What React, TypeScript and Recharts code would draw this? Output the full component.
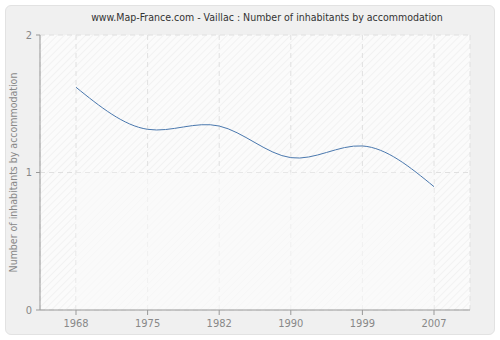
import React from "react";
import { LineChart, Line, XAxis, YAxis, CartesianGrid, ReferenceArea } from "recharts";

const years = ["1968", "1975", "1982", "1990", "1999", "2007"];
const values = [1.62, 1.314, 1.338, 1.108, 1.193, 0.897];
const yTicks = [0, 1, 2];

const data = years.map((y, i) => ({ year: y, value: values[i] }));

const FONT = "'DejaVu Sans Condensed', 'DejaVu Sans', Verdana, sans-serif";

export default function App() {
  return (
    <div style={{ position: "fixed", left: 0, top: 0, width: 500, height: 340, background: "#fff" }}>
      <div
        style={{
          position: "absolute",
          left: 5,
          top: 5,
          width: 488,
          height: 328,
          background: "#f0f0f0",
          border: "1px solid #e2e2e2",
          borderRadius: 6,
        }}
      />
      <div
        style={{
          position: "absolute",
          left: 0,
          top: 11,
          width: 500,
          textAlign: "center",
          fontFamily: FONT,
          fontSize: 10.5,
          color: "#333",
          paddingLeft: 34,
          boxSizing: "border-box",
        }}
      >
        www.Map-France.com - Vaillac : Number of inhabitants by accommodation
      </div>
      <div style={{ position: "absolute", left: 0, top: 0 }}>
        <LineChart width={500} height={340} data={data} margin={{ top: 35, right: 30, bottom: 0, left: 0 }}>
          <defs>
            <pattern id="hatch" width="5" height="5" patternUnits="userSpaceOnUse" patternTransform="rotate(45)">
              <rect width="5" height="5" fill="#fbfbfb" />
              <line x1="0" y1="0" x2="0" y2="5" stroke="#ececec" strokeWidth="1.2" />
            </pattern>
          </defs>
          <CartesianGrid
            stroke="#e0e0e0"
            strokeDasharray="5 4"
            fill="url(#hatch)"
            fillOpacity={1}
          />
          <ReferenceArea y1={0} y2={1} fill="#fafafa" fillOpacity={0.6} stroke="none" ifOverflow="visible" />
          <XAxis
            dataKey="year"
            padding={{ left: 36, right: 36 }}
            height={30}
            tick={{ fill: "#888", fontSize: 11, fontFamily: FONT }}
            axisLine={{ stroke: "#999" }}
            tickLine={{ stroke: "#999" }}
            tickSize={5}
            tickMargin={4}
            interval={0}
          />
          <YAxis
            domain={[0, 2]}
            ticks={yTicks}
            width={40}
            tick={{ fill: "#888", fontSize: 11, fontFamily: FONT }}
            axisLine={{ stroke: "#999" }}
            tickLine={{ stroke: "#999" }}
            tickSize={4}
            tickMargin={4}
            label={{
              value: "Number of inhabitants by accommodation",
              angle: -90,
              position: "center",
              dx: -7,
              style: { fill: "#888", fontSize: 10.5, fontFamily: FONT },
            }}
          />
          <Line
            type="natural"
            dataKey="value"
            stroke="#4a78ae"
            strokeWidth={1}
            dot={false}
            activeDot={false}
            isAnimationActive={false}
          />
        </LineChart>
      </div>
    </div>
  );
}
